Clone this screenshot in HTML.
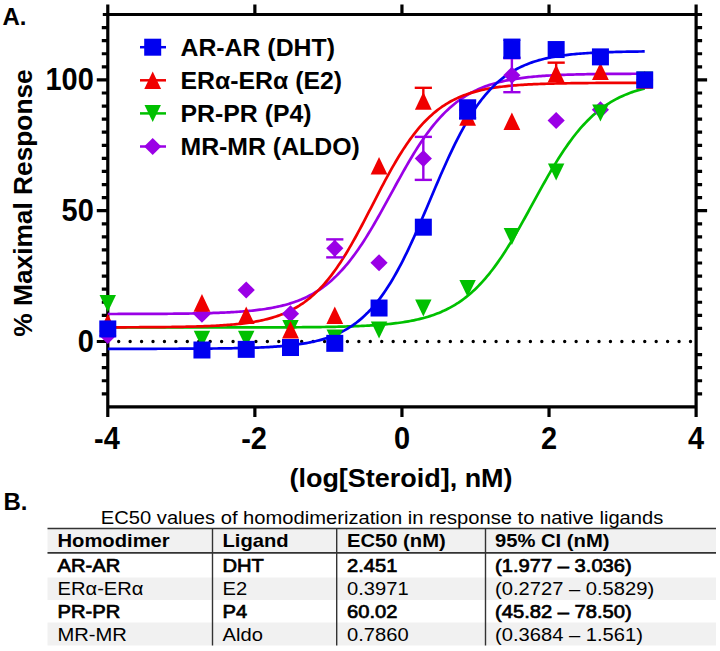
<!DOCTYPE html>
<html><head><meta charset="utf-8"><style>
html,body{margin:0;padding:0;background:#fff;}
body{width:720px;height:651px;position:relative;overflow:hidden;font-family:"Liberation Sans",sans-serif;}
</style></head><body>
<svg width="720" height="651" viewBox="0 0 720 651" style="position:absolute;left:0;top:0">
<rect width="720" height="651" fill="#fff"/>
<text x="2.5" y="25.3" font-family="Liberation Sans" font-weight="bold" font-size="24">A.</text>
<line x1="118.7" y1="341.50" x2="691.2" y2="341.50" stroke="#000" stroke-width="3.4" stroke-linecap="round" stroke-dasharray="0 11.436"/>
<path d="M107.79,4.50V416.90M696.11,4.50V416.90M102.79,14.50H702.11M107.79,406.90H696.11M254.87,14.50V4.50M254.87,406.90V416.90M401.95,14.50V4.50M401.95,406.90V416.90M549.03,14.50V4.50M549.03,406.90V416.90M107.79,393.82H101.79M696.11,393.82H702.11M107.79,380.74H101.79M696.11,380.74H702.11M107.79,367.66H101.79M696.11,367.66H702.11M107.79,354.58H101.79M696.11,354.58H702.11M107.79,341.50H96.79M107.79,328.42H101.79M696.11,328.42H702.11M107.79,315.34H101.79M696.11,315.34H702.11M107.79,302.26H101.79M696.11,302.26H702.11M107.79,289.18H101.79M696.11,289.18H702.11M107.79,276.10H101.79M696.11,276.10H702.11M107.79,263.02H101.79M696.11,263.02H702.11M107.79,249.94H101.79M696.11,249.94H702.11M107.79,236.86H101.79M696.11,236.86H702.11M107.79,223.78H101.79M696.11,223.78H702.11M107.79,210.70H96.79M696.11,210.70H707.11M107.79,197.62H101.79M696.11,197.62H702.11M107.79,184.54H101.79M696.11,184.54H702.11M107.79,171.46H101.79M696.11,171.46H702.11M107.79,158.38H101.79M696.11,158.38H702.11M107.79,145.30H101.79M696.11,145.30H702.11M107.79,132.22H101.79M696.11,132.22H702.11M107.79,119.14H101.79M696.11,119.14H702.11M107.79,106.06H101.79M696.11,106.06H702.11M107.79,92.98H101.79M696.11,92.98H702.11M107.79,79.90H96.79M696.11,79.90H707.11M107.79,66.82H101.79M696.11,66.82H702.11M107.79,53.74H101.79M696.11,53.74H702.11M107.79,40.66H101.79M696.11,40.66H702.11M107.79,27.58H101.79M696.11,27.58H702.11" stroke="#000" stroke-width="3.2" fill="none"/>
<polyline points="107.79,313.99 109.58,313.99 111.37,313.98 113.16,313.98 114.95,313.98 116.74,313.98 118.53,313.97 120.32,313.97 122.11,313.97 123.90,313.96 125.69,313.96 127.48,313.95 129.27,313.95 131.06,313.95 132.85,313.94 134.64,313.94 136.43,313.93 138.22,313.92 140.01,313.92 141.79,313.91 143.58,313.91 145.37,313.90 147.16,313.89 148.95,313.88 150.74,313.88 152.53,313.87 154.32,313.86 156.11,313.85 157.90,313.84 159.69,313.83 161.48,313.81 163.27,313.80 165.06,313.79 166.85,313.78 168.64,313.76 170.43,313.75 172.22,313.73 174.01,313.71 175.80,313.70 177.59,313.68 179.38,313.66 181.17,313.64 182.96,313.61 184.75,313.59 186.54,313.56 188.33,313.54 190.12,313.51 191.91,313.48 193.70,313.45 195.49,313.42 197.28,313.38 199.07,313.35 200.86,313.31 202.65,313.27 204.44,313.23 206.22,313.18 208.01,313.13 209.80,313.08 211.59,313.03 213.38,312.97 215.17,312.92 216.96,312.85 218.75,312.79 220.54,312.72 222.33,312.64 224.12,312.57 225.91,312.48 227.70,312.40 229.49,312.31 231.28,312.21 233.07,312.11 234.86,312.00 236.65,311.89 238.44,311.77 240.23,311.65 242.02,311.51 243.81,311.37 245.60,311.23 247.39,311.07 249.18,310.91 250.97,310.73 252.76,310.55 254.55,310.36 256.34,310.15 258.13,309.94 259.92,309.71 261.71,309.48 263.50,309.23 265.29,308.96 267.08,308.68 268.87,308.39 270.66,308.08 272.44,307.76 274.23,307.41 276.02,307.05 277.81,306.67 279.60,306.27 281.39,305.85 283.18,305.41 284.97,304.94 286.76,304.45 288.55,303.94 290.34,303.39 292.13,302.82 293.92,302.23 295.71,301.60 297.50,300.94 299.29,300.24 301.08,299.52 302.87,298.75 304.66,297.95 306.45,297.11 308.24,296.23 310.03,295.31 311.82,294.35 313.61,293.34 315.40,292.28 317.19,291.17 318.98,290.02 320.77,288.81 322.56,287.55 324.35,286.24 326.14,284.86 327.93,283.43 329.72,281.95 331.51,280.40 333.30,278.78 335.09,277.11 336.87,275.37 338.66,273.56 340.45,271.69 342.24,269.75 344.03,267.74 345.82,265.67 347.61,263.52 349.40,261.31 351.19,259.02 352.98,256.67 354.77,254.25 356.56,251.76 358.35,249.21 360.14,246.59 361.93,243.91 363.72,241.16 365.51,238.36 367.30,235.50 369.09,232.58 370.88,229.61 372.67,226.60 374.46,223.53 376.25,220.43 378.04,217.29 379.83,214.11 381.62,210.91 383.41,207.68 385.20,204.43 386.99,201.17 388.78,197.89 390.57,194.61 392.36,191.32 394.15,188.05 395.94,184.77 397.73,181.52 399.52,178.28 401.31,175.06 403.09,171.87 404.88,168.71 406.67,165.59 408.46,162.51 410.25,159.47 412.04,156.48 413.83,153.54 415.62,150.65 417.41,147.82 419.20,145.05 420.99,142.33 422.78,139.68 424.57,137.10 426.36,134.58 428.15,132.13 429.94,129.74 431.73,127.43 433.52,125.18 435.31,123.00 437.10,120.89 438.89,118.85 440.68,116.88 442.47,114.97 444.26,113.14 446.05,111.37 447.84,109.66 449.63,108.02 451.42,106.44 453.21,104.92 455.00,103.46 456.79,102.06 458.58,100.72 460.37,99.44 462.16,98.20 463.95,97.02 465.74,95.89 467.52,94.82 469.31,93.78 471.10,92.80 472.89,91.85 474.68,90.95 476.47,90.10 478.26,89.28 480.05,88.50 481.84,87.75 483.63,87.04 485.42,86.37 487.21,85.72 489.00,85.11 490.79,84.53 492.58,83.97 494.37,83.44 496.16,82.94 497.95,82.47 499.74,82.01 501.53,81.58 503.32,81.17 505.11,80.78 506.90,80.41 508.69,80.06 510.48,79.73 512.27,79.41 514.06,79.11 515.85,78.82 517.64,78.55 519.43,78.29 521.22,78.05 523.01,77.82 524.80,77.60 526.59,77.39 528.38,77.19 530.17,77.01 531.96,76.83 533.74,76.66 535.53,76.50 537.32,76.35 539.11,76.21 540.90,76.07 542.69,75.94 544.48,75.82 546.27,75.70 548.06,75.59 549.85,75.49 551.64,75.39 553.43,75.30 555.22,75.21 557.01,75.13 558.80,75.05 560.59,74.97 562.38,74.90 564.17,74.83 565.96,74.77 567.75,74.71 569.54,74.65 571.33,74.59 573.12,74.54 574.91,74.49 576.70,74.45 578.49,74.40 580.28,74.36 582.07,74.32 583.86,74.29 585.65,74.25 587.44,74.22 589.23,74.19 591.02,74.16 592.81,74.13 594.60,74.10 596.39,74.08 598.17,74.05 599.96,74.03 601.75,74.01 603.54,73.99 605.33,73.97 607.12,73.95 608.91,73.93 610.70,73.92 612.49,73.90 614.28,73.88 616.07,73.87 617.86,73.86 619.65,73.84 621.44,73.83 623.23,73.82 625.02,73.81 626.81,73.80 628.60,73.79 630.39,73.78 632.18,73.77 633.97,73.77 635.76,73.76 637.55,73.75 639.34,73.74 641.13,73.74 642.92,73.73 644.71,73.73" fill="none" stroke="#9a00e6" stroke-width="2.7"/>
<polyline points="107.79,327.50 109.58,327.50 111.37,327.50 113.16,327.50 114.95,327.50 116.74,327.50 118.53,327.50 120.32,327.50 122.11,327.50 123.90,327.50 125.69,327.50 127.48,327.50 129.27,327.50 131.06,327.50 132.85,327.50 134.64,327.50 136.43,327.50 138.22,327.50 140.01,327.50 141.79,327.50 143.58,327.50 145.37,327.50 147.16,327.50 148.95,327.50 150.74,327.50 152.53,327.50 154.32,327.50 156.11,327.50 157.90,327.50 159.69,327.50 161.48,327.50 163.27,327.50 165.06,327.50 166.85,327.50 168.64,327.50 170.43,327.50 172.22,327.50 174.01,327.50 175.80,327.50 177.59,327.50 179.38,327.50 181.17,327.50 182.96,327.50 184.75,327.50 186.54,327.50 188.33,327.49 190.12,327.49 191.91,327.49 193.70,327.49 195.49,327.49 197.28,327.49 199.07,327.49 200.86,327.49 202.65,327.49 204.44,327.49 206.22,327.49 208.01,327.49 209.80,327.49 211.59,327.49 213.38,327.48 215.17,327.48 216.96,327.48 218.75,327.48 220.54,327.48 222.33,327.48 224.12,327.48 225.91,327.48 227.70,327.47 229.49,327.47 231.28,327.47 233.07,327.47 234.86,327.47 236.65,327.46 238.44,327.46 240.23,327.46 242.02,327.46 243.81,327.46 245.60,327.45 247.39,327.45 249.18,327.45 250.97,327.44 252.76,327.44 254.55,327.44 256.34,327.43 258.13,327.43 259.92,327.43 261.71,327.42 263.50,327.42 265.29,327.41 267.08,327.41 268.87,327.40 270.66,327.40 272.44,327.39 274.23,327.38 276.02,327.38 277.81,327.37 279.60,327.36 281.39,327.36 283.18,327.35 284.97,327.34 286.76,327.33 288.55,327.32 290.34,327.31 292.13,327.30 293.92,327.29 295.71,327.28 297.50,327.27 299.29,327.25 301.08,327.24 302.87,327.22 304.66,327.21 306.45,327.19 308.24,327.18 310.03,327.16 311.82,327.14 313.61,327.12 315.40,327.10 317.19,327.08 318.98,327.05 320.77,327.03 322.56,327.00 324.35,326.98 326.14,326.95 327.93,326.92 329.72,326.89 331.51,326.85 333.30,326.82 335.09,326.78 336.87,326.74 338.66,326.70 340.45,326.66 342.24,326.61 344.03,326.56 345.82,326.51 347.61,326.46 349.40,326.40 351.19,326.34 352.98,326.28 354.77,326.22 356.56,326.15 358.35,326.07 360.14,326.00 361.93,325.91 363.72,325.83 365.51,325.74 367.30,325.64 369.09,325.54 370.88,325.44 372.67,325.33 374.46,325.21 376.25,325.08 378.04,324.95 379.83,324.82 381.62,324.67 383.41,324.52 385.20,324.36 386.99,324.19 388.78,324.02 390.57,323.83 392.36,323.63 394.15,323.43 395.94,323.21 397.73,322.98 399.52,322.74 401.31,322.49 403.09,322.22 404.88,321.94 406.67,321.65 408.46,321.34 410.25,321.01 412.04,320.67 413.83,320.31 415.62,319.93 417.41,319.53 419.20,319.11 420.99,318.67 422.78,318.21 424.57,317.73 426.36,317.22 428.15,316.69 429.94,316.13 431.73,315.54 433.52,314.92 435.31,314.28 437.10,313.60 438.89,312.89 440.68,312.14 442.47,311.36 444.26,310.55 446.05,309.69 447.84,308.80 449.63,307.87 451.42,306.89 453.21,305.87 455.00,304.80 456.79,303.69 458.58,302.53 460.37,301.31 462.16,300.05 463.95,298.73 465.74,297.36 467.52,295.94 469.31,294.45 471.10,292.91 472.89,291.30 474.68,289.64 476.47,287.91 478.26,286.12 480.05,284.27 481.84,282.35 483.63,280.37 485.42,278.32 487.21,276.20 489.00,274.02 490.79,271.77 492.58,269.45 494.37,267.07 496.16,264.62 497.95,262.11 499.74,259.53 501.53,256.90 503.32,254.20 505.11,251.44 506.90,248.63 508.69,245.76 510.48,242.84 512.27,239.87 514.06,236.85 515.85,233.79 517.64,230.69 519.43,227.56 521.22,224.39 523.01,221.19 524.80,217.97 526.59,214.74 528.38,211.48 530.17,208.21 531.96,204.94 533.74,201.67 535.53,198.40 537.32,195.13 539.11,191.88 540.90,188.64 542.69,185.43 544.48,182.23 546.27,179.07 548.06,175.94 549.85,172.85 551.64,169.80 553.43,166.79 555.22,163.83 557.01,160.91 558.80,158.05 560.59,155.25 562.38,152.50 564.17,149.81 565.96,147.19 567.75,144.62 569.54,142.12 571.33,139.68 573.12,137.31 574.91,135.00 576.70,132.77 578.49,130.59 580.28,128.49 582.07,126.45 583.86,124.47 585.65,122.57 587.44,120.72 589.23,118.94 591.02,117.23 592.81,115.57 594.60,113.98 596.39,112.45 598.17,110.97 599.96,109.55 601.75,108.19 603.54,106.88 605.33,105.63 607.12,104.42 608.91,103.27 610.70,102.16 612.49,101.10 614.28,100.09 616.07,99.12 617.86,98.19 619.65,97.31 621.44,96.46 623.23,95.65 625.02,94.88 626.81,94.14 628.60,93.43 630.39,92.76 632.18,92.12 633.97,91.51 635.76,90.92 637.55,90.37 639.34,89.84 641.13,89.33 642.92,88.85 644.71,88.40" fill="none" stroke="#00c000" stroke-width="2.7"/>
<polyline points="107.79,327.32 109.58,327.32 111.37,327.31 113.16,327.31 114.95,327.31 116.74,327.30 118.53,327.30 120.32,327.29 122.11,327.29 123.90,327.28 125.69,327.28 127.48,327.27 129.27,327.27 131.06,327.26 132.85,327.25 134.64,327.25 136.43,327.24 138.22,327.23 140.01,327.22 141.79,327.22 143.58,327.21 145.37,327.20 147.16,327.19 148.95,327.17 150.74,327.16 152.53,327.15 154.32,327.14 156.11,327.12 157.90,327.11 159.69,327.09 161.48,327.08 163.27,327.06 165.06,327.04 166.85,327.02 168.64,327.00 170.43,326.98 172.22,326.96 174.01,326.93 175.80,326.91 177.59,326.88 179.38,326.85 181.17,326.82 182.96,326.79 184.75,326.75 186.54,326.72 188.33,326.68 190.12,326.64 191.91,326.60 193.70,326.55 195.49,326.50 197.28,326.45 199.07,326.40 200.86,326.34 202.65,326.28 204.44,326.22 206.22,326.15 208.01,326.08 209.80,326.00 211.59,325.92 213.38,325.84 215.17,325.75 216.96,325.65 218.75,325.55 220.54,325.45 222.33,325.33 224.12,325.21 225.91,325.09 227.70,324.96 229.49,324.82 231.28,324.67 233.07,324.51 234.86,324.35 236.65,324.17 238.44,323.99 240.23,323.79 242.02,323.58 243.81,323.36 245.60,323.13 247.39,322.89 249.18,322.63 250.97,322.36 252.76,322.07 254.55,321.77 256.34,321.45 258.13,321.11 259.92,320.75 261.71,320.37 263.50,319.97 265.29,319.55 267.08,319.11 268.87,318.64 270.66,318.15 272.44,317.63 274.23,317.08 276.02,316.51 277.81,315.90 279.60,315.26 281.39,314.59 283.18,313.88 284.97,313.13 286.76,312.35 288.55,311.53 290.34,310.66 292.13,309.75 293.92,308.79 295.71,307.79 297.50,306.74 299.29,305.64 301.08,304.48 302.87,303.27 304.66,302.01 306.45,300.68 308.24,299.29 310.03,297.85 311.82,296.33 313.61,294.76 315.40,293.11 317.19,291.40 318.98,289.61 320.77,287.76 322.56,285.83 324.35,283.83 326.14,281.75 327.93,279.60 329.72,277.37 331.51,275.06 333.30,272.68 335.09,270.22 336.87,267.69 338.66,265.08 340.45,262.40 342.24,259.64 344.03,256.82 345.82,253.92 347.61,250.96 349.40,247.93 351.19,244.85 352.98,241.70 354.77,238.50 356.56,235.25 358.35,231.96 360.14,228.62 361.93,225.25 363.72,221.84 365.51,218.41 367.30,214.96 369.09,211.49 370.88,208.01 372.67,204.53 374.46,201.04 376.25,197.57 378.04,194.10 379.83,190.65 381.62,187.23 383.41,183.83 385.20,180.47 386.99,177.15 388.78,173.87 390.57,170.63 392.36,167.45 394.15,164.32 395.94,161.26 397.73,158.25 399.52,155.31 401.31,152.44 403.09,149.63 404.88,146.90 406.67,144.24 408.46,141.65 410.25,139.14 412.04,136.71 413.83,134.35 415.62,132.07 417.41,129.87 419.20,127.74 420.99,125.68 422.78,123.70 424.57,121.80 426.36,119.97 428.15,118.20 429.94,116.51 431.73,114.89 433.52,113.33 435.31,111.84 437.10,110.41 438.89,109.05 440.68,107.74 442.47,106.49 444.26,105.30 446.05,104.16 447.84,103.07 449.63,102.04 451.42,101.05 453.21,100.11 455.00,99.21 456.79,98.36 458.58,97.55 460.37,96.78 462.16,96.05 463.95,95.35 465.74,94.69 467.52,94.06 469.31,93.46 471.10,92.89 472.89,92.35 474.68,91.84 476.47,91.36 478.26,90.90 480.05,90.46 481.84,90.05 483.63,89.66 485.42,89.29 487.21,88.94 489.00,88.60 490.79,88.29 492.58,87.99 494.37,87.71 496.16,87.44 497.95,87.18 499.74,86.94 501.53,86.72 503.32,86.50 505.11,86.30 506.90,86.11 508.69,85.92 510.48,85.75 512.27,85.59 514.06,85.44 515.85,85.29 517.64,85.15 519.43,85.02 521.22,84.90 523.01,84.78 524.80,84.67 526.59,84.57 528.38,84.47 530.17,84.38 531.96,84.29 533.74,84.20 535.53,84.13 537.32,84.05 539.11,83.98 540.90,83.92 542.69,83.85 544.48,83.79 546.27,83.74 548.06,83.68 549.85,83.63 551.64,83.59 553.43,83.54 555.22,83.50 557.01,83.46 558.80,83.42 560.59,83.39 562.38,83.35 564.17,83.32 565.96,83.29 567.75,83.26 569.54,83.24 571.33,83.21 573.12,83.19 574.91,83.16 576.70,83.14 578.49,83.12 580.28,83.10 582.07,83.09 583.86,83.07 585.65,83.05 587.44,83.04 589.23,83.02 591.02,83.01 592.81,83.00 594.60,82.98 596.39,82.97 598.17,82.96 599.96,82.95 601.75,82.94 603.54,82.93 605.33,82.92 607.12,82.92 608.91,82.91 610.70,82.90 612.49,82.89 614.28,82.89 616.07,82.88 617.86,82.88 619.65,82.87 621.44,82.87 623.23,82.86 625.02,82.86 626.81,82.85 628.60,82.85 630.39,82.84 632.18,82.84 633.97,82.84 635.76,82.83 637.55,82.83 639.34,82.83 641.13,82.82 642.92,82.82 644.71,82.82" fill="none" stroke="#f00000" stroke-width="2.7"/>
<polyline points="107.79,348.81 109.58,348.81 111.37,348.81 113.16,348.81 114.95,348.81 116.74,348.81 118.53,348.81 120.32,348.81 122.11,348.81 123.90,348.81 125.69,348.81 127.48,348.80 129.27,348.80 131.06,348.80 132.85,348.80 134.64,348.80 136.43,348.80 138.22,348.80 140.01,348.79 141.79,348.79 143.58,348.79 145.37,348.79 147.16,348.79 148.95,348.79 150.74,348.78 152.53,348.78 154.32,348.78 156.11,348.78 157.90,348.77 159.69,348.77 161.48,348.77 163.27,348.76 165.06,348.76 166.85,348.75 168.64,348.75 170.43,348.75 172.22,348.74 174.01,348.74 175.80,348.73 177.59,348.73 179.38,348.72 181.17,348.71 182.96,348.71 184.75,348.70 186.54,348.69 188.33,348.69 190.12,348.68 191.91,348.67 193.70,348.66 195.49,348.65 197.28,348.64 199.07,348.63 200.86,348.62 202.65,348.61 204.44,348.59 206.22,348.58 208.01,348.57 209.80,348.55 211.59,348.54 213.38,348.52 215.17,348.50 216.96,348.48 218.75,348.46 220.54,348.44 222.33,348.42 224.12,348.39 225.91,348.37 227.70,348.34 229.49,348.31 231.28,348.28 233.07,348.25 234.86,348.22 236.65,348.18 238.44,348.15 240.23,348.11 242.02,348.07 243.81,348.02 245.60,347.97 247.39,347.93 249.18,347.87 250.97,347.82 252.76,347.76 254.55,347.70 256.34,347.63 258.13,347.56 259.92,347.49 261.71,347.41 263.50,347.33 265.29,347.24 267.08,347.15 268.87,347.05 270.66,346.95 272.44,346.84 274.23,346.72 276.02,346.60 277.81,346.47 279.60,346.34 281.39,346.19 283.18,346.04 284.97,345.88 286.76,345.71 288.55,345.53 290.34,345.34 292.13,345.14 293.92,344.92 295.71,344.70 297.50,344.46 299.29,344.21 301.08,343.94 302.87,343.66 304.66,343.37 306.45,343.06 308.24,342.72 310.03,342.38 311.82,342.01 313.61,341.62 315.40,341.21 317.19,340.77 318.98,340.32 320.77,339.84 322.56,339.33 324.35,338.79 326.14,338.22 327.93,337.63 329.72,337.00 331.51,336.34 333.30,335.64 335.09,334.90 336.87,334.13 338.66,333.32 340.45,332.46 342.24,331.56 344.03,330.61 345.82,329.61 347.61,328.57 349.40,327.47 351.19,326.31 352.98,325.10 354.77,323.83 356.56,322.50 358.35,321.10 360.14,319.64 361.93,318.11 363.72,316.51 365.51,314.84 367.30,313.09 369.09,311.26 370.88,309.36 372.67,307.37 374.46,305.30 376.25,303.15 378.04,300.91 379.83,298.58 381.62,296.16 383.41,293.65 385.20,291.05 386.99,288.36 388.78,285.57 390.57,282.70 392.36,279.73 394.15,276.67 395.94,273.52 397.73,270.27 399.52,266.95 401.31,263.53 403.09,260.03 404.88,256.45 406.67,252.79 408.46,249.06 410.25,245.25 412.04,241.38 413.83,237.45 415.62,233.46 417.41,229.42 419.20,225.34 420.99,221.21 422.78,217.05 424.57,212.87 426.36,208.66 428.15,204.44 429.94,200.21 431.73,195.99 433.52,191.76 435.31,187.56 437.10,183.37 438.89,179.21 440.68,175.08 442.47,170.99 444.26,166.94 446.05,162.95 447.84,159.01 449.63,155.13 451.42,151.32 453.21,147.58 455.00,143.91 456.79,140.32 458.58,136.81 460.37,133.39 462.16,130.05 463.95,126.80 465.74,123.63 467.52,120.56 469.31,117.58 471.10,114.70 472.89,111.90 474.68,109.20 476.47,106.59 478.26,104.07 480.05,101.64 481.84,99.30 483.63,97.05 485.42,94.89 487.21,92.81 489.00,90.81 490.79,88.90 492.58,87.07 494.37,85.31 496.16,83.63 497.95,82.02 499.74,80.48 501.53,79.01 503.32,77.61 505.11,76.27 506.90,74.99 508.69,73.77 510.48,72.61 512.27,71.50 514.06,70.45 515.85,69.45 517.64,68.50 519.43,67.59 521.22,66.73 523.01,65.91 524.80,65.13 526.59,64.39 528.38,63.69 530.17,63.02 531.96,62.39 533.74,61.79 535.53,61.22 537.32,60.68 539.11,60.17 540.90,59.68 542.69,59.22 544.48,58.79 546.27,58.38 548.06,57.98 549.85,57.61 551.64,57.26 553.43,56.93 555.22,56.62 557.01,56.32 558.80,56.04 560.59,55.77 562.38,55.52 564.17,55.28 565.96,55.05 567.75,54.84 569.54,54.63 571.33,54.44 573.12,54.26 574.91,54.09 576.70,53.93 578.49,53.77 580.28,53.63 582.07,53.49 583.86,53.36 585.65,53.24 587.44,53.12 589.23,53.01 591.02,52.91 592.81,52.81 594.60,52.72 596.39,52.63 598.17,52.55 599.96,52.47 601.75,52.40 603.54,52.33 605.33,52.26 607.12,52.20 608.91,52.14 610.70,52.08 612.49,52.03 614.28,51.98 616.07,51.93 617.86,51.89 619.65,51.85 621.44,51.81 623.23,51.77 625.02,51.73 626.81,51.70 628.60,51.67 630.39,51.64 632.18,51.61 633.97,51.58 635.76,51.56 637.55,51.53 639.34,51.51 641.13,51.49 642.92,51.47 644.71,51.45" fill="none" stroke="#0000f0" stroke-width="2.7"/>
<polygon points="107.79,326.98 116.39,335.48 107.79,343.98 99.19,335.48" fill="#9a00e6"/>
<polygon points="201.95,305.79 210.55,314.29 201.95,322.79 193.35,314.29" fill="#9a00e6"/>
<polygon points="246.23,281.46 254.83,289.96 246.23,298.46 237.63,289.96" fill="#9a00e6"/>
<polygon points="290.50,305.27 299.10,313.77 290.50,322.27 281.90,313.77" fill="#9a00e6"/>
<line x1="334.78" y1="239.37" x2="334.78" y2="257.37" stroke="#9a00e6" stroke-width="2.4"/>
<line x1="326.18" y1="239.37" x2="343.38" y2="239.37" stroke="#9a00e6" stroke-width="2.4"/>
<line x1="326.18" y1="257.37" x2="343.38" y2="257.37" stroke="#9a00e6" stroke-width="2.4"/>
<polygon points="334.78,239.87 343.38,248.37 334.78,256.87 326.18,248.37" fill="#9a00e6"/>
<polygon points="379.05,254.26 387.65,262.76 379.05,271.26 370.45,262.76" fill="#9a00e6"/>
<line x1="423.33" y1="136.88" x2="423.33" y2="179.88" stroke="#9a00e6" stroke-width="2.4"/>
<line x1="414.73" y1="136.88" x2="431.93" y2="136.88" stroke="#9a00e6" stroke-width="2.4"/>
<line x1="414.73" y1="179.88" x2="431.93" y2="179.88" stroke="#9a00e6" stroke-width="2.4"/>
<polygon points="423.33,149.88 431.93,158.38 423.33,166.88 414.73,158.38" fill="#9a00e6"/>
<polygon points="467.61,101.48 476.21,109.98 467.61,118.48 459.01,109.98" fill="#9a00e6"/>
<line x1="511.88" y1="58.19" x2="511.88" y2="92.19" stroke="#9a00e6" stroke-width="2.4"/>
<line x1="503.28" y1="58.19" x2="520.48" y2="58.19" stroke="#9a00e6" stroke-width="2.4"/>
<line x1="503.28" y1="92.19" x2="520.48" y2="92.19" stroke="#9a00e6" stroke-width="2.4"/>
<polygon points="511.88,66.69 520.48,75.19 511.88,83.69 503.28,75.19" fill="#9a00e6"/>
<polygon points="556.16,111.95 564.76,120.45 556.16,128.95 547.56,120.45" fill="#9a00e6"/>
<polygon points="600.43,101.22 609.03,109.72 600.43,118.22 591.83,109.72" fill="#9a00e6"/>
<polygon points="644.71,71.40 653.31,79.90 644.71,88.40 636.11,79.90" fill="#9a00e6"/>
<polygon points="99.59,295.07 115.99,295.07 107.79,312.07" fill="#00c000"/>
<polygon points="193.75,330.65 210.15,330.65 201.95,347.65" fill="#00c000"/>
<polygon points="238.03,330.65 254.43,330.65 246.23,347.65" fill="#00c000"/>
<polygon points="282.30,319.92 298.70,319.92 290.50,336.92" fill="#00c000"/>
<polygon points="326.58,329.60 342.98,329.60 334.78,346.60" fill="#00c000"/>
<polygon points="370.85,321.49 387.25,321.49 379.05,338.49" fill="#00c000"/>
<polygon points="415.13,299.52 431.53,299.52 423.33,316.52" fill="#00c000"/>
<polygon points="459.41,279.90 475.81,279.90 467.61,296.90" fill="#00c000"/>
<polygon points="503.68,228.10 520.08,228.10 511.88,245.10" fill="#00c000"/>
<polygon points="547.96,163.48 564.36,163.48 556.16,180.48" fill="#00c000"/>
<polygon points="592.23,104.62 608.63,104.62 600.43,121.62" fill="#00c000"/>
<polygon points="636.51,71.40 652.91,71.40 644.71,88.40" fill="#00c000"/>
<polygon points="107.79,313.86 116.19,331.46 99.39,331.46" fill="#f00000"/>
<polygon points="201.95,294.11 210.35,311.71 193.55,311.71" fill="#f00000"/>
<polygon points="246.23,306.41 254.63,324.01 237.83,324.01" fill="#f00000"/>
<polygon points="290.50,320.93 298.90,338.53 282.10,338.53" fill="#f00000"/>
<polygon points="334.78,306.41 343.18,324.01 326.38,324.01" fill="#f00000"/>
<polygon points="379.05,156.90 387.45,174.50 370.65,174.50" fill="#f00000"/>
<line x1="423.33" y1="87.83" x2="423.33" y2="100.83" stroke="#f00000" stroke-width="2.4"/>
<line x1="414.73" y1="87.83" x2="431.93" y2="87.83" stroke="#f00000" stroke-width="2.4"/>
<polygon points="423.33,92.03 431.73,109.63 414.93,109.63" fill="#f00000"/>
<polygon points="467.61,108.25 476.01,125.85 459.21,125.85" fill="#f00000"/>
<polygon points="511.88,112.43 520.28,130.03 503.48,130.03" fill="#f00000"/>
<line x1="556.16" y1="62.66" x2="556.16" y2="73.36" stroke="#f00000" stroke-width="2.4"/>
<line x1="547.56" y1="62.66" x2="564.76" y2="62.66" stroke="#f00000" stroke-width="2.4"/>
<polygon points="556.16,64.56 564.56,82.16 547.76,82.16" fill="#f00000"/>
<polygon points="600.43,62.47 608.83,80.07 592.03,80.07" fill="#f00000"/>
<polygon points="644.71,71.10 653.11,88.70 636.31,88.70" fill="#f00000"/>
<rect x="99.29" y="320.44" width="17.00" height="17.00" fill="#0000f0"/>
<rect x="193.45" y="341.50" width="17.00" height="17.00" fill="#0000f0"/>
<rect x="237.73" y="340.85" width="17.00" height="17.00" fill="#0000f0"/>
<rect x="282.00" y="339.02" width="17.00" height="17.00" fill="#0000f0"/>
<rect x="326.28" y="334.83" width="17.00" height="17.00" fill="#0000f0"/>
<rect x="370.55" y="299.52" width="17.00" height="17.00" fill="#0000f0"/>
<rect x="414.83" y="218.68" width="17.00" height="17.00" fill="#0000f0"/>
<line x1="467.61" y1="100.46" x2="467.61" y2="118.46" stroke="#0000f0" stroke-width="2.4"/>
<line x1="459.01" y1="100.46" x2="476.21" y2="100.46" stroke="#0000f0" stroke-width="2.4"/>
<line x1="459.01" y1="118.46" x2="476.21" y2="118.46" stroke="#0000f0" stroke-width="2.4"/>
<rect x="459.11" y="100.96" width="17.00" height="17.00" fill="#0000f0"/>
<line x1="511.88" y1="39.77" x2="511.88" y2="57.77" stroke="#0000f0" stroke-width="2.4"/>
<line x1="503.28" y1="39.77" x2="520.48" y2="39.77" stroke="#0000f0" stroke-width="2.4"/>
<line x1="503.28" y1="57.77" x2="520.48" y2="57.77" stroke="#0000f0" stroke-width="2.4"/>
<rect x="503.38" y="40.27" width="17.00" height="17.00" fill="#0000f0"/>
<rect x="547.66" y="41.05" width="17.00" height="17.00" fill="#0000f0"/>
<rect x="591.93" y="48.38" width="17.00" height="17.00" fill="#0000f0"/>
<rect x="636.21" y="71.40" width="17.00" height="17.00" fill="#0000f0"/>
<text transform="translate(93.79,90.40) scale(0.934,1)" text-anchor="end" font-family="Liberation Sans" font-weight="bold" font-size="31">100</text>
<text transform="translate(93.79,221.20) scale(0.934,1)" text-anchor="end" font-family="Liberation Sans" font-weight="bold" font-size="31">50</text>
<text transform="translate(93.79,352.00) scale(0.934,1)" text-anchor="end" font-family="Liberation Sans" font-weight="bold" font-size="31">0</text>
<text transform="translate(106.99,448.8) scale(0.934,1)" text-anchor="middle" font-family="Liberation Sans" font-weight="bold" font-size="31">-4</text>
<text transform="translate(254.07,448.8) scale(0.934,1)" text-anchor="middle" font-family="Liberation Sans" font-weight="bold" font-size="31">-2</text>
<text transform="translate(401.95,448.8) scale(0.934,1)" text-anchor="middle" font-family="Liberation Sans" font-weight="bold" font-size="31">0</text>
<text transform="translate(549.03,448.8) scale(0.934,1)" text-anchor="middle" font-family="Liberation Sans" font-weight="bold" font-size="31">2</text>
<text transform="translate(696.11,448.8) scale(0.934,1)" text-anchor="middle" font-family="Liberation Sans" font-weight="bold" font-size="31">4</text>
<text transform="translate(31.5,203) rotate(-90)" text-anchor="middle" font-family="Liberation Sans" font-weight="bold" font-size="26.3">% Maximal Response</text>
<text transform="translate(401,487) scale(1.025,1)" text-anchor="middle" font-family="Liberation Sans" font-weight="bold" font-size="26.3">(log[Steroid], nM)</text>
<line x1="140" y1="47.20" x2="166" y2="47.20" stroke="#0000f0" stroke-width="2.5"/>
<rect x="144.20" y="38.70" width="17.00" height="17.00" fill="#0000f0"/>
<text transform="translate(180.5,55.50) scale(1.035,1)" font-family="Liberation Sans" font-weight="bold" font-size="24">AR-AR (DHT)</text>
<line x1="140" y1="80.30" x2="166" y2="80.30" stroke="#f00000" stroke-width="2.5"/>
<polygon points="152.70,71.50 161.10,89.10 144.30,89.10" fill="#f00000"/>
<text transform="translate(180.5,88.60) scale(1.035,1)" font-family="Liberation Sans" font-weight="bold" font-size="24">ERα-ERα (E2)</text>
<line x1="140" y1="113.40" x2="166" y2="113.40" stroke="#00c000" stroke-width="2.5"/>
<polygon points="144.50,104.90 160.90,104.90 152.70,121.90" fill="#00c000"/>
<text transform="translate(180.5,121.70) scale(1.035,1)" font-family="Liberation Sans" font-weight="bold" font-size="24">PR-PR (P4)</text>
<line x1="140" y1="146.50" x2="166" y2="146.50" stroke="#9a00e6" stroke-width="2.5"/>
<polygon points="152.70,138.00 161.30,146.50 152.70,155.00 144.10,146.50" fill="#9a00e6"/>
<text transform="translate(180.5,154.80) scale(1.035,1)" font-family="Liberation Sans" font-weight="bold" font-size="24">MR-MR (ALDO)</text>
<text x="3.5" y="510" font-family="Liberation Sans" font-weight="bold" font-size="24">B.</text>
<rect x="47.5" y="528.5" width="668.5" height="24.399999999999977" fill="#f1f1f1"/>
<rect x="47.5" y="577.5" width="668.5" height="22.5" fill="#f1f1f1"/>
<rect x="47.5" y="622.5" width="668.5" height="23.0" fill="#f1f1f1"/>
<line x1="47.5" y1="528.5" x2="716" y2="528.5" stroke="#333" stroke-width="1.6"/>
<line x1="47.5" y1="552.9" x2="716" y2="552.9" stroke="#333" stroke-width="1.6"/>
<line x1="212.5" y1="528.5" x2="212.5" y2="645.5" stroke="#333" stroke-width="1.4"/>
<line x1="336.7" y1="528.5" x2="336.7" y2="645.5" stroke="#333" stroke-width="1.4"/>
<line x1="485.5" y1="528.5" x2="485.5" y2="645.5" stroke="#333" stroke-width="1.4"/>
<text transform="translate(100.80,523.90) scale(1.09,1)" text-anchor="start" font-family="Liberation Sans" font-size="18.5">EC50 values of homodimerization in response to native ligands</text>
<text transform="translate(57.50,547.40) scale(1.11,1)" text-anchor="start" font-family="Liberation Sans" font-weight="bold" font-size="18.2">Homodimer</text>
<text transform="translate(222.50,547.40) scale(1.11,1)" text-anchor="start" font-family="Liberation Sans" font-weight="bold" font-size="18.2">Ligand</text>
<text transform="translate(347.00,547.40) scale(1.11,1)" text-anchor="start" font-family="Liberation Sans" font-weight="bold" font-size="18.2">EC50 (nM)</text>
<text transform="translate(495.00,547.40) scale(1.11,1)" text-anchor="start" font-family="Liberation Sans" font-weight="bold" font-size="18.2">95% CI (nM)</text>
<text transform="translate(57.50,571.90) scale(1.09,1)" text-anchor="start" font-family="Liberation Sans" stroke="#000" stroke-width="0.7" font-size="18.5">AR-AR</text>
<text transform="translate(222.50,571.90) scale(1.09,1)" text-anchor="start" font-family="Liberation Sans" stroke="#000" stroke-width="0.7" font-size="18.5">DHT</text>
<text transform="translate(347.00,571.90) scale(1.09,1)" text-anchor="start" font-family="Liberation Sans" stroke="#000" stroke-width="0.7" font-size="18.5">2.451</text>
<text transform="translate(495.00,571.90) scale(1.09,1)" text-anchor="start" font-family="Liberation Sans" stroke="#000" stroke-width="0.7" font-size="18.5">(1.977 – 3.036)</text>
<text transform="translate(57.50,594.80) scale(1.09,1)" text-anchor="start" font-family="Liberation Sans" font-size="18.5">ERα-ERα</text>
<text transform="translate(222.50,594.80) scale(1.09,1)" text-anchor="start" font-family="Liberation Sans" font-size="18.5">E2</text>
<text transform="translate(347.00,594.80) scale(1.09,1)" text-anchor="start" font-family="Liberation Sans" font-size="18.5">0.3971</text>
<text transform="translate(495.00,594.80) scale(1.09,1)" text-anchor="start" font-family="Liberation Sans" font-size="18.5">(0.2727 – 0.5829)</text>
<text transform="translate(57.50,618.00) scale(1.09,1)" text-anchor="start" font-family="Liberation Sans" stroke="#000" stroke-width="0.7" font-size="18.5">PR-PR</text>
<text transform="translate(222.50,618.00) scale(1.09,1)" text-anchor="start" font-family="Liberation Sans" stroke="#000" stroke-width="0.7" font-size="18.5">P4</text>
<text transform="translate(347.00,618.00) scale(1.09,1)" text-anchor="start" font-family="Liberation Sans" stroke="#000" stroke-width="0.7" font-size="18.5">60.02</text>
<text transform="translate(495.00,618.00) scale(1.09,1)" text-anchor="start" font-family="Liberation Sans" stroke="#000" stroke-width="0.7" font-size="18.5">(45.82 – 78.50)</text>
<text transform="translate(57.50,641.20) scale(1.09,1)" text-anchor="start" font-family="Liberation Sans" font-size="18.5">MR-MR</text>
<text transform="translate(222.50,641.20) scale(1.09,1)" text-anchor="start" font-family="Liberation Sans" font-size="18.5">Aldo</text>
<text transform="translate(347.00,641.20) scale(1.09,1)" text-anchor="start" font-family="Liberation Sans" font-size="18.5">0.7860</text>
<text transform="translate(495.00,641.20) scale(1.09,1)" text-anchor="start" font-family="Liberation Sans" font-size="18.5">(0.3684 – 1.561)</text>
</svg>
</body></html>
